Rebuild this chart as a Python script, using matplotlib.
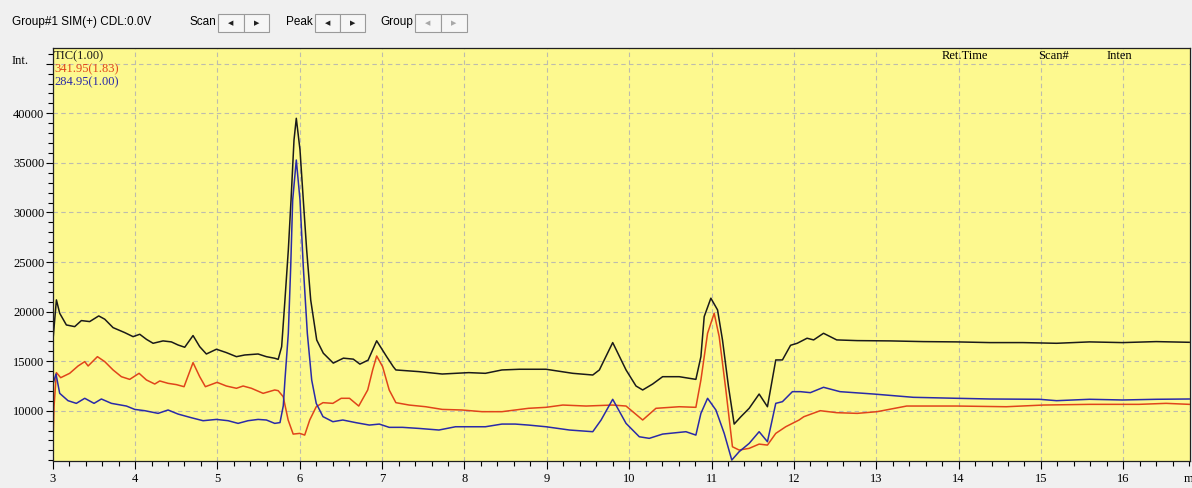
import numpy as np
import matplotlib
matplotlib.use("Agg")
import matplotlib.pyplot as plt
from matplotlib.patches import Rectangle
from matplotlib.ticker import MultipleLocator

# retention time (min) / intensity
tic_rt = [3.00, 3.045, 3.085, 3.166, 3.267, 3.348, 3.449, 3.559, 3.632, 3.733, 3.874, 3.976,
          4.057, 4.138, 4.219, 4.34, 4.441, 4.522, 4.603, 4.704, 4.785, 4.866, 4.988, 5.109,
          5.231, 5.332, 5.494, 5.595, 5.696, 5.738, 5.78, 5.82, 5.861, 5.894, 5.93, 5.958,
          6.003, 6.043, 6.084, 6.133, 6.206, 6.286, 6.407, 6.53, 6.65, 6.73, 6.83, 6.934,
          7.056, 7.136, 7.167, 7.449, 7.73, 8.052, 8.254, 8.455, 8.669, 8.99, 9.315, 9.558,
          9.638, 9.8, 9.962, 10.083, 10.164, 10.285, 10.406, 10.608, 10.81, 10.871, 10.911,
          10.992, 11.073, 11.133, 11.206, 11.275, 11.356, 11.457, 11.578, 11.679, 11.78,
          11.861, 11.96, 12.04, 12.16, 12.24, 12.36, 12.52, 12.77, 13.17, 13.57, 13.98,
          14.38, 14.78, 15.19, 15.59, 15.99, 16.40, 16.80]
tic_int = [16800, 21180, 19830, 18650, 18480, 19090, 18990, 19560, 19230, 18380, 17880, 17470,
           17710, 17200, 16800, 17040, 16940, 16630, 16400, 17580, 16460, 15720, 16200, 15860,
           15450, 15620, 15720, 15450, 15290, 15180, 16450, 21160, 26200, 31250, 37300, 39500,
           36300, 31250, 26200, 21160, 17130, 15800, 14800, 15300, 15200, 14700, 15100, 17050,
           15440, 14430, 14110, 13940, 13700, 13840, 13770, 14110, 14180, 14180, 13770, 13600,
           14110, 16870, 14110, 12490, 12090, 12690, 13430, 13430, 13160, 15450, 19490,
           21350, 20170, 17140, 12420, 8650, 9390, 10240, 11680, 10400, 15120,
           15120, 16600, 16800, 17310, 17140, 17810, 17140, 17070, 17040, 16970, 16940,
           16870, 16870, 16800, 16940, 16870, 16970, 16900]

m342_rt = [3.0, 3.016, 3.045, 3.097, 3.206, 3.308, 3.389, 3.43, 3.543, 3.632, 3.733, 3.834,
           3.935, 4.049, 4.138, 4.239, 4.3, 4.401, 4.502, 4.595, 4.704, 4.785, 4.854, 4.996,
           5.109, 5.231, 5.312, 5.413, 5.555, 5.696, 5.738, 5.799, 5.859, 5.92, 6.0, 6.06,
           6.121, 6.2, 6.282, 6.402, 6.503, 6.604, 6.716, 6.825, 6.885, 6.934, 7.006, 7.086,
           7.167, 7.328, 7.529, 7.73, 7.972, 8.213, 8.455, 8.616, 8.777, 8.99, 9.194, 9.477,
           9.8, 9.962, 10.164, 10.325, 10.608, 10.81, 10.871, 10.952, 11.032, 11.093, 11.174,
           11.254, 11.335, 11.457, 11.578, 11.679, 11.78, 11.901, 12.063, 12.12, 12.32, 12.52,
           12.77, 13.01, 13.37, 13.98, 14.58, 15.03, 15.59, 16.19, 16.52, 16.80]
m342_int = [5690, 10400, 13840, 13330, 13770, 14510, 14950, 14510, 15450, 14950, 14110, 13430,
            13160, 13770, 13100, 12690, 13000, 12760, 12630, 12420, 14850, 13430, 12420, 12860,
            12490, 12260, 12490, 12260, 11750, 12090, 12020, 11410, 9060, 7640, 7710, 7540,
            9060, 10400, 10810, 10740, 11250, 11250, 10470, 12090, 14110, 15520, 14440, 12090,
            10810, 10570, 10400, 10130, 10070, 9900, 9900, 10070, 10240, 10340, 10570, 10470,
            10570, 10470, 9060, 10240, 10400, 10340, 13100, 17810, 19830, 17470, 12090,
            6360, 6030, 6200, 6630, 6530, 7710, 8380, 9060, 9390, 10000, 9800,
            9730, 9900, 10470, 10470, 10400, 10570, 10640, 10640, 10740, 10640]

m285_rt = [3.0, 3.04, 3.085, 3.186, 3.287, 3.389, 3.502, 3.591, 3.713, 3.895, 3.996, 4.118,
           4.28, 4.401, 4.522, 4.684, 4.826, 4.988, 5.13, 5.251, 5.372, 5.494, 5.595, 5.696,
           5.76, 5.80, 5.82, 5.861, 5.89, 5.914, 5.958, 6.003, 6.043, 6.092, 6.145, 6.2,
           6.282, 6.402, 6.523, 6.684, 6.845, 6.966, 7.086, 7.247, 7.449, 7.69, 7.891, 8.052,
           8.254, 8.455, 8.616, 8.777, 8.99, 9.275, 9.558, 9.659, 9.8, 9.962, 10.123, 10.244,
           10.406, 10.689, 10.81, 10.871, 10.952, 11.053, 11.154, 11.246, 11.335, 11.457,
           11.578, 11.679, 11.78, 11.861, 11.982, 12.08, 12.2, 12.36, 12.56, 12.97, 13.45,
           13.98, 14.38, 14.98, 15.19, 15.59, 15.99, 16.40, 16.80]
m285_int = [12590, 13700, 11750, 11010, 10740, 11250, 10740, 11180, 10740, 10470, 10130, 10000,
            9730, 10070, 9660, 9290, 8990, 9120, 8990, 8720, 8990, 9120, 9060, 8720,
            8800, 10500, 13090, 17800, 24520, 31250, 35290, 31250, 24520, 17800, 13090, 10740,
            9400, 8890, 9060, 8790, 8550, 8650, 8320, 8320, 8210, 8050, 8380, 8380,
            8380, 8650, 8650, 8550, 8380, 8050, 7880, 9060, 11150, 8720, 7370, 7210,
            7640, 7880, 7540, 9730, 11250, 10070, 7710, 5020, 5860, 6700,
            7880, 6870, 10740, 10910, 11920, 11920, 11820, 12360, 11920, 11680, 11350,
            11250, 11180, 11150, 11010, 11150, 11080, 11150, 11180]

trace_labels = ["TIC(1.00)", "341.95(1.83)", "284.95(1.00)"]
trace_colors = ["#1a1a1a", "#e0441a", "#2a2aa8"]

W, H = 1192, 488
fig = plt.figure(figsize=(W / 100, H / 100), dpi=100, facecolor="#f0f0f0")


def fx(x):
    return x / W


def fy(y):
    return 1 - y / H


ax = fig.add_axes([fx(52.7), fy(460.7), fx(1190) - fx(52.7), fy(47.7) - fy(460.7)])
ax.set_facecolor("#fdf98f")

ax.plot(tic_rt, tic_int, color=trace_colors[0], lw=1.1)
ax.plot(m342_rt, m342_int, color=trace_colors[1], lw=1.1)
ax.plot(m285_rt, m285_int, color=trace_colors[2], lw=1.1)

ax.set_xlim(3.0, 16.81)
ax.set_ylim(4955, 46620)
ax.xaxis.set_major_locator(MultipleLocator(1))
ax.xaxis.set_minor_locator(MultipleLocator(0.2))
ax.set_yticks(np.arange(10000, 45001, 5000))
ax.set_yticklabels([str(v) for v in range(10000, 40001, 5000)] + [""])
ax.yaxis.set_minor_locator(MultipleLocator(1000))
ax.grid(True, which="major", color="#bdbcae", ls=(0, (4, 3)), lw=0.8)
ax.tick_params(which="major", length=5, width=0.8, pad=1, labelsize=9)
ax.tick_params(which="minor", length=3.5, width=0.8)
ax.tick_params(axis="x", which="major", length=5.5, pad=3)
for lab in ax.get_xticklabels() + ax.get_yticklabels():
    lab.set_family("Liberation Serif")
for s in ax.spines.values():
    s.set_color("#202020")
    s.set_linewidth(0.9)

# trace legend inside the plot
for i, (lab, col) in enumerate(zip(trace_labels, trace_colors)):
    fig.text(fx(54), fy(56 + 13 * i), lab, color=col, family="Liberation Serif",
             fontsize=9, va="center", ha="left")
fig.text(fx(12), fy(61), "Int.", family="Liberation Serif", fontsize=9, va="center")
for lab, xp in [("Ret.Time", 942), ("Scan#", 1038), ("Inten", 1107)]:
    fig.text(fx(xp), fy(56), lab, family="Liberation Serif", fontsize=9, va="center")
fig.text(fx(1184), fy(479), "m", family="Liberation Serif", fontsize=9, va="center")

# header bar
hfont = "Liberation Sans"
fig.text(fx(12), fy(22), "Group#1 SIM(+) CDL:0.0V", family=hfont, fontsize=8.5, va="center")
buttons = [("Scan", 218, 269, "#202020"),
           ("Peak", 315, 365, "#202020"),
           ("Group", 415, 467, "#a8a8a8")]
for name, x0, x1, acol in buttons:
    fig.text(fx(x0 - 2), fy(22), name, family=hfont, fontsize=8.5, va="center", ha="right")
    xm = (x0 + x1) / 2
    for a, b in [(x0, xm), (xm, x1)]:
        fig.patches.append(Rectangle((fx(a), fy(32)), fx(b - a), fy(14) - fy(32),
                                     transform=fig.transFigure, facecolor="#f6f6f6",
                                     edgecolor="#9a9a9a", lw=0.8))
    fig.text(fx((x0 + xm) / 2), fy(23), "\u25c0", color=acol, fontsize=5,
             ha="center", va="center")
    fig.text(fx((xm + x1) / 2), fy(23), "\u25b6", color=acol, fontsize=5,
             ha="center", va="center")

fig.savefig("out.png", dpi=100, facecolor=fig.get_facecolor())
